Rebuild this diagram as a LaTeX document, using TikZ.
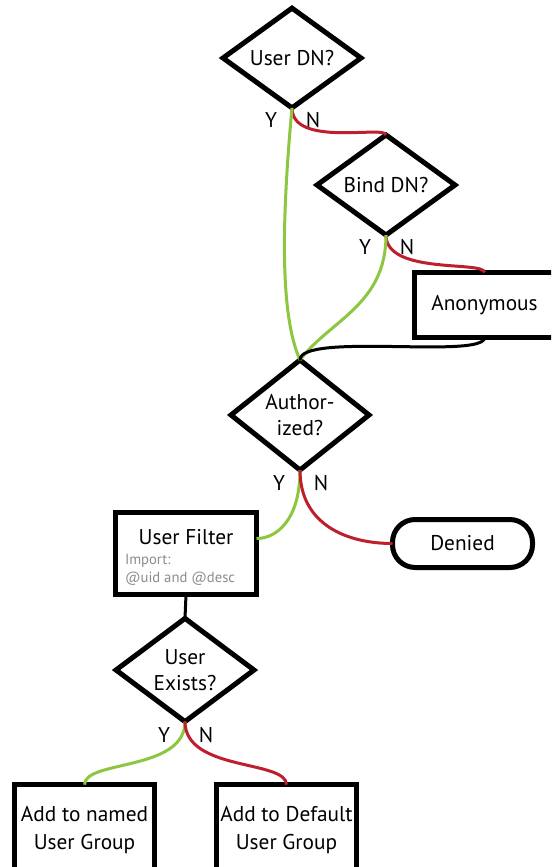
\documentclass[tikz,border=0pt]{standalone}
\usepackage{fontspec}
\setmainfont{PT Sans}
\usetikzlibrary{shapes.geometric}
\begin{document}
\begin{tikzpicture}[x=0.75pt,y=-0.75pt,
  every node/.style={font=\fontsize{16}{19}\selectfont,inner sep=0pt,outer sep=0pt},
  decision/.style={diamond,draw,line width=3.75pt,minimum width=103.5pt,minimum height=67.5pt,align=center},
  box/.style={rectangle,draw,line width=3.75pt,minimum width=105pt,align=center},
  yes/.style={draw=yesColor,line width=2.25pt},
  no/.style={draw=noColor,line width=2.25pt},
  flow/.style={draw=black,line width=2.25pt},
  note/.style={text=noteColor,font=\fontsize{11}{13.5}\selectfont,align=left,anchor=west}]
\definecolor{yesColor}{RGB}{141,198,63}
\definecolor{noColor}{RGB}{190,30,45}
\definecolor{noteColor}{gray}{0.55}
\path[use as bounding box,fill=white] (0,0) rectangle (551,867);
\begin{scope}
\path[clip] (0,0) rectangle (551,867);

\node[decision] (userdn) at (292,58) {User DN?};
\node[decision] (binddn) at (386,185) {Bind DN?};
\node[box,minimum height=48.75pt] (anon) at (484.5,305) {Anonymous};
\node[decision] (auth) at (300,415) {Author-\\ized?};
\node[box,minimum width=105.75pt,minimum height=61.5pt] (filter) at (186,553.5) {};
\node (filtername) at (186,537) {User Filter};
\node[note] (filterimport) at (125,570) {Import:\\@uid and @desc};
\node[box,rounded corners=17pt,minimum height=36pt] (denied) at (462.5,543.5) {Denied};
\node[decision] (exists) at (185,670) {User\\Exists?};
\node[box,minimum height=68pt,font=\fontsize{16}{21}\selectfont] (named) at (84.5,830) {Add to named\\User Group};
\node[box,minimum height=68pt,font=\fontsize{16}{21}\selectfont] (default) at (286.5,830) {Add to Default\\User Group};

\path (userdn.south) ++(-21,12) node (userdnY) {Y} ++(42,0) node (userdnN) {N};
\path (binddn.south) ++(-21,12) node (binddnY) {Y} ++(42,0) node (binddnN) {N};
\path (auth.south) ++(-21,13) node (authY) {Y} ++(42,0) node (authN) {N};
\path (exists.south) ++(-21,13) node (existsY) {Y} ++(42,0) node (existsN) {N};

\path[no] (userdn.south) .. controls +(0,40) and +(0,-10) .. (binddn.north);
\path[no] (binddn.south) .. controls +(0,40) and +(0,-12) .. (anon.north);
\path[yes] (userdn.south) .. controls +(-12,130) and +(-18,-40) .. (auth.north);
\path[yes] (binddn.south) .. controls +(0,70) and +(30,-40) .. (auth.north);
\path[flow] (anon.south) .. controls +(0,22) and +(0,-28) .. (auth.north);
\path[yes] (auth.south) .. controls +(0,50) and +(20,0) .. (filter.12);
\path[no] (auth.south) .. controls +(0,55) and +(-45,0) .. (denied.west);
\path[flow] (filter.south) -- (exists.north);
\path[yes] (exists.south) .. controls +(0,50) and +(0,-25) .. (named.north);
\path[no] (exists.south) .. controls +(0,50) and +(0,-25) .. (default.north);
\end{scope}
\end{tikzpicture}
\end{document}
